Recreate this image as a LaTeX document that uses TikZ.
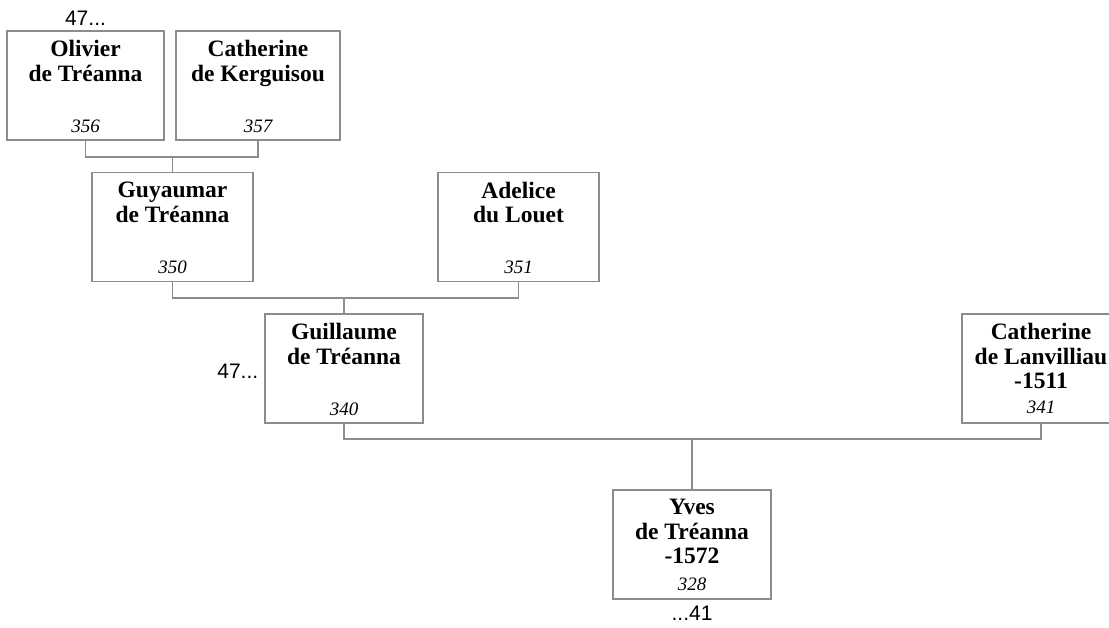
\documentclass[tikz,border=0pt]{standalone}
\usepackage{fontspec}
\setmainfont{Liberation Serif}
\newfontfamily\sidefont{Liberation Sans}
\usepackage{tikz}
\usetikzlibrary{positioning}
\definecolor{boxgray}{HTML}{8C8C8C}
\tikzset{
  personbox/.style={draw=boxgray,line width=1.2pt,minimum height=109pt,
                    inner sep=0pt},
  nametext/.style={anchor=north,inner sep=0pt,align=center,
                   font=\fontsize{23.5}{24.5}\selectfont\bfseries},
  numtext/.style={anchor=south,inner sep=0pt,
                  font=\fontsize{19}{21}\selectfont\itshape},
  sidetext/.style={inner sep=0pt,font=\fontsize{21}{24}\selectfont\sidefont},
  famline/.style={draw=boxgray,line width=1.2pt}
}
\begin{document}
\begin{tikzpicture}[x=1pt,y=-1pt]
    \useasboundingbox (0,0) rectangle (1109,627);
    % boxes
    \node[personbox,minimum width=157pt] (olivier) at (85.5,85.5) {};
    \node[personbox,minimum width=164pt] (kerguisou) at (258,85.5) {};
    \node[personbox,minimum width=161pt] (guyaumar) at (172.5,227) {};
    \node[personbox,minimum width=161pt] (adelice) at (518.5,227) {};
    \node[personbox,minimum width=158pt] (guillaume) at (344,368.5) {};
    \node[personbox,minimum width=158pt] (lanvilliau) at (1041,368.5) {};
    \node[personbox,minimum width=158pt] (yves) at (692,544.5) {};
    % names
    \node[nametext] (olivier-t) at ([yshift=-10pt]olivier.north)
      {Olivier\\de Tréanna};
    \node[nametext] (kerguisou-t) at ([yshift=-10pt]kerguisou.north)
      {Catherine\\de Kerguisou};
    \node[nametext] (guyaumar-t) at ([yshift=-10pt]guyaumar.north)
      {Guyaumar\\de Tréanna};
    \node[nametext] (adelice-t) at ([yshift=-10pt]adelice.north)
      {Adelice\\du Louet};
    \node[nametext] (guillaume-t) at ([yshift=-10pt]guillaume.north)
      {Guillaume\\de Tréanna};
    \node[nametext] (lanvilliau-t) at ([yshift=-10pt]lanvilliau.north)
      {Catherine\\de Lanvilliau\\-1511};
    \node[nametext] (yves-t) at ([yshift=-10pt]yves.north)
      {Yves\\de Tréanna\\-1572};
    % numbers
    \node[numtext] (olivier-n) at ([yshift=8pt]olivier.south) {356};
    \node[numtext] (kerguisou-n) at ([yshift=8pt]kerguisou.south) {357};
    \node[numtext] (guyaumar-n) at ([yshift=8pt]guyaumar.south) {350};
    \node[numtext] (adelice-n) at ([yshift=8pt]adelice.south) {351};
    \node[numtext] (guillaume-n) at ([yshift=8pt]guillaume.south) {340};
    \node[numtext] (lanvilliau-n) at ([yshift=10pt]lanvilliau.south) {341};
    \node[numtext] (yves-n) at ([yshift=9pt]yves.south) {328};
    % side references
    \node[sidetext,anchor=base] (olivier-up) at ([yshift=5pt]olivier.north)
      {47...};
    \node[sidetext,anchor=base east] (guillaume-left)
      at ([xshift=-6pt,yshift=-10pt]guillaume.west) {47...};
    \node[sidetext,anchor=base] (yves-down) at ([yshift=-21pt]yves.south)
      {...41};
    % family lines
    \coordinate (j1) at (guyaumar.north |- 0,157);
    \coordinate (j2) at (guillaume.north |- 0,298);
    \coordinate (j3) at (yves.north |- 0,439);
    \draw[famline] (olivier.south) |- (j1) -| (kerguisou.south);
    \draw[famline] (j1) -- (guyaumar.north);
    \draw[famline] (guyaumar.south) |- (j2) -| (adelice.south);
    \draw[famline] (j2) -- (guillaume.north);
    \draw[famline] (guillaume.south) |- (j3) -| (lanvilliau.south);
    \draw[famline] (j3) -- (yves.north);
  \end{tikzpicture}
\end{document}
